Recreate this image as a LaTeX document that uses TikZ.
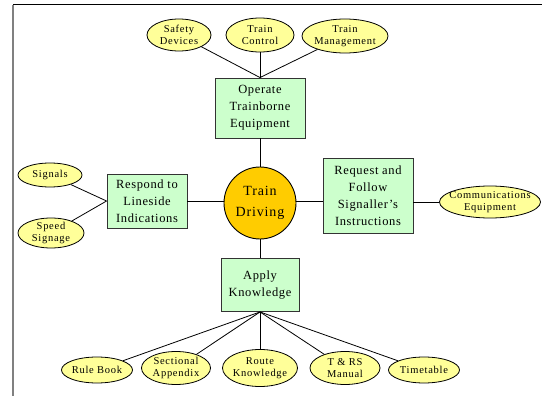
\documentclass[tikz,border=0pt]{standalone}
\usepackage{fontspec}
\setmainfont{Liberation Serif}[LetterSpace=4]
\usetikzlibrary{shapes.geometric}
\definecolor{leafyellow}{HTML}{FFFF99}
\definecolor{taskgreen}{HTML}{CCFFCC}
\definecolor{hubgold}{HTML}{FFCC00}
\tikzset{
  leaf/.style={ellipse, draw=black, line width=0.8pt, fill=leafyellow,
    inner xsep=-20pt, inner ysep=-6pt,
    align=center, font=\fontsize{10.5}{12}\selectfont\addfontfeature{LetterSpace=7}},
  task/.style={rectangle, draw=black!80, line width=0.9pt, fill=taskgreen, inner sep=0pt,
    align=center, font=\fontsize{12.5}{17}\selectfont\addfontfeature{LetterSpace=5}},
  hub/.style={circle, draw=black, line width=0.9pt, fill=hubgold, inner sep=0pt,
    minimum size=72pt, align=center, font=\fontsize{14}{21}\selectfont\addfontfeature{LetterSpace=6}},
  link/.style={draw=black, line width=0.8pt},
}
\begin{document}
\begin{tikzpicture}[x=1pt, y=-1pt]
\useasboundingbox (0,0) rectangle (542,396);
% page frame
\draw[black, line width=1pt] (13,5) -- (542,5);
\draw[black!50, line width=1.4pt] (13,5) -- (13,396);

% centre
\node[hub] (driving) at (260,203) {Train\\Driving};

% task boxes
\node[task, minimum width=90pt, minimum height=60pt] (operate) at (260,108) {Operate\\Trainborne\\Equipment};
\node[task, minimum width=80pt, minimum height=54pt] (respond) at (147,201) {Respond to\\Lineside\\Indications};
\node[task, minimum width=90pt, minimum height=75pt] (request) at (368,196) {Request and\\Follow\\Signaller's\\Instructions};
\node[task, minimum width=78pt, minimum height=53pt] (apply) at (260,285) {Apply\\Knowledge};

% top leaves
\node[leaf, minimum width=64pt, minimum height=32pt] (safety) at (179,35) {Safety\\Devices};
\node[leaf, minimum width=68pt, minimum height=34pt] (control) at (260,35) {Train\\Control};
\node[leaf, minimum width=86pt, minimum height=34pt] (mgmt) at (345,36) {Train\\Management};

% left leaves
\node[leaf, minimum width=64pt, minimum height=24pt] (signals) at (50,175) {Signals};
\node[leaf, minimum width=66pt, minimum height=30pt] (speed) at (51,233) {Speed\\Signage};

% right leaf
\node[leaf, minimum width=101pt, minimum height=32pt] (comms) at (490,202) {Communications\\Equipment};

% bottom leaves
\node[leaf, minimum width=71pt, minimum height=26pt] (rule) at (97,370) {Rule Book};
\node[leaf, minimum width=69pt, minimum height=33pt] (sectional) at (176,368) {Sectional\\Appendix};
\node[leaf, minimum width=75pt, minimum height=37pt] (route) at (260,368) {Route\\Knowledge};
\node[leaf, minimum width=70pt, minimum height=33pt] (trs) at (345,368) {T \& RS\\Manual};
\node[leaf, minimum width=71pt, minimum height=26pt] (timetable) at (424,370) {Timetable};

% connectors
\draw[link] (operate.north) -- (safety);
\draw[link] (operate.north) -- (control);
\draw[link] (operate.north) -- (mgmt);
\draw[link] (operate) -- (driving);
\draw[link] (respond.west) -- (signals);
\draw[link] (respond.west) -- (speed);
\draw[link] (respond.east) -- (respond.east -| driving.west);
\draw[link] (driving.east |- respond.east) -- (respond.east -| request.west);
\draw[link] (request.east |- comms) -- (comms);
\draw[link] (driving) -- (apply);
\draw[link] (apply.south) -- (rule);
\draw[link] (apply.south) -- (sectional);
\draw[link] (apply.south) -- (route);
\draw[link] (apply.south) -- (trs);
\draw[link] (apply.south) -- (timetable);
\end{tikzpicture}
\end{document}
